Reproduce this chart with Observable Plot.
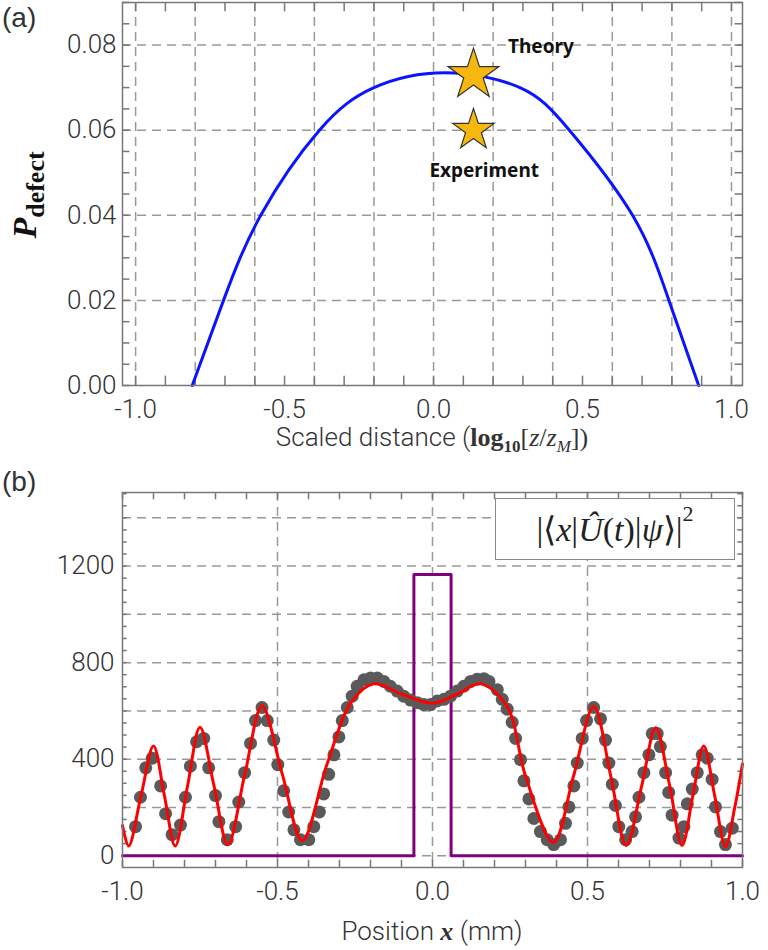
<!DOCTYPE html>
<html><head><meta charset="utf-8">
<script src="https://cdn.jsdelivr.net/npm/d3@7"></script>
<script src="https://cdn.jsdelivr.net/npm/@observablehq/plot@0.6"></script>
<style>
body{margin:0;background:#fff;font-family:Roboto,sans-serif;}
#wrap{position:relative;width:768px;height:950px;}
.lab{position:absolute;font-family:"Liberation Sans";font-weight:300;font-size:28px;color:#333;}
#inset{position:absolute;left:495px;top:498px;width:240px;height:62px;border:1.5px solid #888;background:#fff;font-family:"Liberation Serif",serif;font-size:34px;line-height:62px;text-align:center;color:#222;box-sizing:border-box;}
</style></head><body>
<div id="wrap">
<div id="pa"></div><div id="pb"></div>
<div class="lab" style="left:2px;top:2px">(a)</div>
<div class="lab" style="left:2px;top:466px">(b)</div>
<div id="inset">|⟨<i>x</i>|<i>Û</i>(<i>t</i>)|<i>ψ</i>⟩|<sup style="font-size:22px;vertical-align:top;line-height:30px">2</sup></div>
</div>
<script>
// Panel (a) data
const curveAX = [-0.81,-0.705,-0.58,-0.383,-0.2,0.037,0.29,0.456,0.668,0.79,0.89];
const curveAY = [0,0.02,0.04,0.06,0.07,0.0735,0.07,0.06,0.04,0.02,0];
const starX = [0.134,0.134];
const starY = [0.073,0.06];
const starR = [16,13];
const starLabels = ["Theory","Experiment"];
// Panel (b) data
const redX = [-1.0,-0.98,-0.94,-0.90,-0.865,-0.83,-0.79,-0.75,-0.705,-0.66,-0.605,-0.55,-0.485,-0.42,-0.34,-0.26,-0.19,-0.1,0,0.08,0.155,0.24,0.3,0.39,0.455,0.52,0.575,0.625,0.675,0.72,0.765,0.805,0.84,0.875,0.91,0.945,0.975,1.0];
const redY = [125,40,250,455,250,40,290,532,290,45,340,620,340,62,380,640,712,670,632,670,712,620,330,55,330,618,330,42,290,530,290,42,250,455,250,38,200,380];
const dotX = [-0.958,-0.942,-0.925,-0.904,-0.877,-0.861,-0.840,-0.813,-0.797,-0.781,-0.761,-0.738,-0.722,-0.700,-0.689,-0.662,-0.635,-0.625,-0.606,-0.587,-0.571,-0.550,-0.533,-0.512,-0.499,-0.480,-0.464,-0.447,-0.426,-0.399,-0.383,-0.365,-0.351,-0.335,-0.318,-0.302,-0.291,-0.275,-0.259,-0.243,-0.221,-0.200,-0.178,-0.157,-0.136,-0.114,-0.093,-0.071,-0.049,-0.028,-0.006,0.015,0.037,0.058,0.080,0.101,0.123,0.144,0.166,0.182,0.209,0.225,0.241,0.257,0.268,0.284,0.295,0.311,0.327,0.348,0.370,0.391,0.413,0.429,0.440,0.456,0.467,0.483,0.497,0.520,0.542,0.558,0.569,0.580,0.590,0.601,0.623,0.644,0.655,0.666,0.682,0.698,0.709,0.725,0.735,0.752,0.762,0.773,0.795,0.811,0.822,0.838,0.854,0.870,0.886,0.902,0.913,0.929,0.945,0.967];
const dotY = [120,242,364,404,289,174,87,127,242,371,472,486,364,249,141,66,120,222,344,465,560,614,560,479,377,269,181,107,66,66,120,181,256,337,418,492,560,614,661,702,729,736,736,722,702,682,661,645,634,626,626,641,648,661,682,702,722,731,733,722,688,648,607,553,486,398,310,235,154,100,66,46,66,134,202,289,384,486,560,614,567,479,384,296,208,120,66,100,161,242,344,418,506,506,452,344,262,168,73,120,215,276,344,418,404,316,202,100,46,114];
const purpleX = [-1,-0.06,-0.06,0.06,0.06,1];
const purpleY = [0,0,1165,1165,0,0];
const ticksAX = [-1.0,-0.5,0.0,0.5,1.0];
const ticksAY = [0,0.02,0.04,0.06,0.08];
const ticksBX = [-1.0,-0.5,0.0,0.5,1.0];
const ticksBY = [0,400,800,1200];

const grid = {stroke:"#999",strokeWidth:1.5,strokeDasharray:"9,6"};
const fr = {stroke:"#777",strokeWidth:1.5};
const tickFont = {fontFamily:"Roboto",fontWeight:300,fontSize:26,fill:"#333"};

// Panel (a)
const aXd=[-1.044,1.037], aYd=[0,0.09];
const minAX=d3.range(-10,11).map(i=>i/10);
const minAY=d3.range(0,19).map(i=>i*0.005);
const pa = Plot.plot({
  width:768,height:470,marginLeft:122,marginRight:26,marginTop:2,marginBottom:85,
  style:{fontFamily:"Roboto",color:"#333",background:"#fff"},
  x:{domain:aXd},y:{domain:aYd},
  marks:[
    Plot.ruleX(d3.range(-5,6).map(i=>i*0.2),{...grid}),
    Plot.ruleY(ticksAY.slice(1),{...grid}),
    Plot.ruleX(minAX,{y1:0,y2:0.0022,...fr}),
    Plot.ruleX(minAX,{y1:0.09,y2:0.0878,...fr}),
    Plot.ruleY(minAY,{x1:aXd[0],x2:aXd[0]+0.025,...fr}),
    Plot.ruleY(minAY,{x1:aXd[1],x2:aXd[1]-0.025,...fr}),
    Plot.line(curveAX.map((x,i)=>({x,y:curveAY[i]})),{x:"x",y:"y",stroke:"#0a14ff",strokeWidth:3,curve:"natural"}),
    Plot.dot(starX.map((x,i)=>({x,y:starY[i],r:starR[i]})),{x:"x",y:"y",r:"r",symbol:"star",fill:"#f6b70f",stroke:"#333",strokeWidth:1.2}),
    Plot.text([starLabels[0]],{x:0.25,y:0.0795,text:d=>d,textAnchor:"start",fontFamily:"Noto Sans",fontWeight:700,fontSize:19,fill:"#111"}),
    Plot.text([starLabels[1]],{x:0.17,y:0.0505,text:d=>d,fontFamily:"Noto Sans",fontWeight:700,fontSize:19,fill:"#111"}),
    Plot.frame({...fr}),
    Plot.axisX(ticksAX,{tickSize:0,tickPadding:14,...tickFont,tickFormat:d=>d.toFixed(1),label:null}),
    Plot.axisY(ticksAY,{tickSize:0,tickPadding:6,...tickFont,tickFormat:d=>d.toFixed(2),label:null})
  ],
  r:{type:"identity"}
});
const svgA=d3.select(pa);
svgA.append("text").attr("x",432).attr("y",446).attr("text-anchor","middle").attr("font-family","Roboto").attr("font-weight",300).attr("font-size",26).attr("fill","#333")
  .html('Scaled distance (<tspan font-family="Liberation Serif" font-weight="700">log</tspan><tspan font-family="Liberation Serif" font-weight="700" font-size="17" dy="6">10</tspan><tspan font-family="Liberation Serif" dy="-6">[</tspan><tspan font-family="Liberation Serif" font-style="italic">z</tspan><tspan font-family="Liberation Serif">/</tspan><tspan font-family="Liberation Serif" font-style="italic">z</tspan><tspan font-family="Liberation Serif" font-style="italic" font-size="17" dy="6">M</tspan><tspan font-family="Liberation Serif" dy="-6">])</tspan>');
svgA.append("text").attr("transform","translate(36,195) rotate(-90)").attr("text-anchor","middle").attr("font-family","Liberation Serif").attr("font-weight",700).attr("font-size",34).attr("fill","#111")
  .html('<tspan font-style="italic">P</tspan><tspan font-size="26" dy="8">defect</tspan>');
document.getElementById("pa").append(pa);

// Panel (b)
const bXd=[-1,1], bYd=[-49,1505];
const minBX=d3.range(-10,11).map(i=>i/10);
const minBY=d3.range(0,31).map(i=>i*50);
const pb = Plot.plot({
  width:768,height:480,marginLeft:122,marginRight:26,marginTop:22,marginBottom:83,
  style:{fontFamily:"Roboto",color:"#333",background:"#fff"},
  x:{domain:bXd},y:{domain:bYd},
  marks:[
    Plot.ruleX([-0.5,0,0.5],{...grid}),
    Plot.ruleY(d3.range(0,8).map(i=>i*200),{...grid}),
    Plot.ruleX(minBX,{y1:bYd[0],y2:bYd[0]+30,...fr}),
    Plot.ruleX(minBX,{y1:bYd[1],y2:bYd[1]-30,...fr}),
    Plot.ruleY(minBY,{x1:-1,x2:-0.985,...fr}),
    Plot.ruleY(minBY,{x1:1,x2:0.985,...fr}),
    Plot.line(purpleX.map((x,i)=>({x,y:purpleY[i]})),{x:"x",y:"y",stroke:"#800080",strokeWidth:3}),
    Plot.dot(dotX.map((x,i)=>({x,y:dotY[i]})),{x:"x",y:"y",r:6.5,fill:"#5a5a5a"}),
    Plot.line(redX.map((x,i)=>({x,y:redY[i]})),{x:"x",y:"y",stroke:"#ff0000",strokeWidth:3,curve:"catmull-rom"}),
    Plot.frame({...fr}),
    Plot.axisX(ticksBX,{tickSize:0,tickPadding:14,...tickFont,tickFormat:d=>d.toFixed(1),label:null}),
    Plot.axisY(ticksBY,{tickSize:0,tickPadding:8,...tickFont,tickFormat:d=>String(d),label:null})
  ]
});
d3.select(pb).append("text").attr("x",432).attr("y",470).attr("text-anchor","middle").attr("font-family","Roboto").attr("font-weight",300).attr("font-size",26).attr("fill","#333")
  .html('Position <tspan font-family="Liberation Serif" font-style="italic" font-weight="700">x</tspan> (mm)');
document.getElementById("pb").append(pb);
</script>
</body></html>
